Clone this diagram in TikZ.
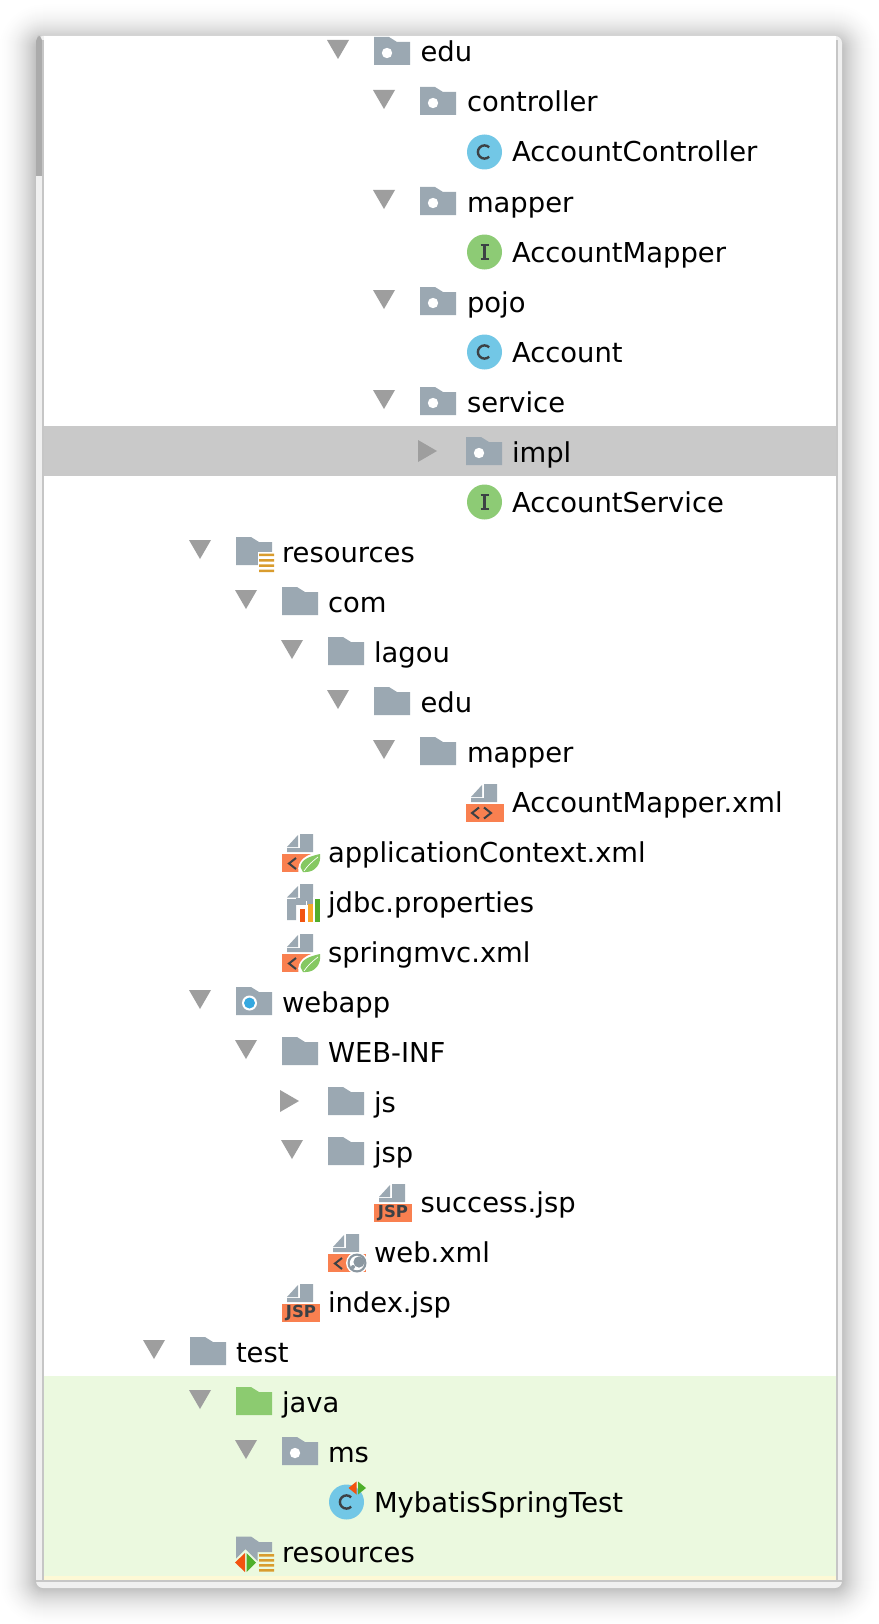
\documentclass[tikz,border=0pt]{standalone}
\usepackage{fontspec}
\setmainfont{DejaVu Sans}
\definecolor{iconGray}{HTML}{9BA8B2}
\definecolor{triGray}{HTML}{9E9E9E}
\definecolor{selGray}{HTML}{C9C9C9}
\definecolor{testGreen}{HTML}{EBF9DF}
\definecolor{stripYellow}{HTML}{FDF9D5}
\definecolor{folderGreen}{HTML}{8CCB70}
\definecolor{classBlue}{HTML}{72C7E6}
\definecolor{ifaceGreen}{HTML}{8DCB75}
\definecolor{glyphDark}{HTML}{3C4145}
\definecolor{fileOrange}{HTML}{F98050}
\definecolor{stripe}{HTML}{D99C2E}
\definecolor{arrowRed}{HTML}{F2530F}
\definecolor{arrowGreen}{HTML}{4DAF2A}
\definecolor{leafGreen}{HTML}{85C862}
\definecolor{dotBlue}{HTML}{35A8E0}
\definecolor{barOrange}{HTML}{F7A82A}
\definecolor{barGreen}{HTML}{52AE2B}
\definecolor{scrollGray}{HTML}{ABABAB}
\definecolor{edgeGray}{HTML}{C6C6C6}
\definecolor{paneLight}{HTML}{F0F0F0}
\tikzset{
  x=1pt,y=-1pt,
  lbl/.style={anchor=base west,inner sep=0pt,outer sep=0pt,text=black,font=\fontsize{27.4}{30}\selectfont},
}
\newcommand\triDown[2]{\fill[triGray] (#1-47,#2-12) -- (#1-25,#2-12) -- (#1-36,#2+7) -- cycle;}
\newcommand\triRight[2]{\fill[triGray] (#1-48,#2-12) -- (#1-29,#2-1) -- (#1-48,#2+10) -- cycle;}
\newcommand\folderShape[3]{\fill[#3] (#1,#2-15) -- (#1+15,#2-15) -- (#1+23,#2-10) -- (#1+36,#2-10) -- (#1+36,#2+13) -- (#1,#2+13) -- cycle;}
\newcommand\pkgFolder[3]{\folderShape{#1}{#2}{#3}\fill[white] (#1+13,#2+1) circle (5.2);}
\newcommand\classCircle[3]{\fill[#3] (#1+18.5,#2) circle (17.5);}
\newcommand\classIcon[2]{\classCircle{#1}{#2}{classBlue}
  \draw[glyphDark,line width=2.4pt] (#1+18.5,#2) ++(45:6.6) arc[start angle=45,end angle=315,radius=6.6];}
\newcommand\ifaceIcon[2]{\classCircle{#1}{#2}{ifaceGreen}
  \draw[glyphDark,line width=2.2pt] (#1+18.5,#2-7) -- (#1+18.5,#2+7) (#1+14.5,#2-7) -- (#1+22.5,#2-7) (#1+14.5,#2+7) -- (#1+22.5,#2+7);}
\newcommand\pageIcon[2]{\fill[iconGray] (#1+18,#2-18) -- (#1+31,#2-18) -- (#1+31,#2) -- (#1+5,#2) -- (#1+5,#2-4) -- (#1+18,#2-4) -- cycle;
  \fill[iconGray] (#1+5,#2-5) -- (#1+16,#2-17) -- (#1+16,#2-5) -- cycle;}
\newcommand\xmlBase[2]{\fill[fileOrange] (#1,#2+2) rectangle (#1+38,#2+20);}
\newcommand\xmlIcon[2]{\pageIcon{#1}{#2}\xmlBase{#1}{#2}
  \draw[glyphDark,line width=2pt] (#1+13,#2+5.5) -- (#1+6,#2+11) -- (#1+13,#2+16.5) (#1+18,#2+5.5) -- (#1+25,#2+11) -- (#1+18,#2+16.5);}
\newcommand\springIcon[2]{\pageIcon{#1}{#2}\xmlBase{#1}{#2}
  \draw[glyphDark,line width=2pt] (#1+14,#2+6) -- (#1+7,#2+11.5) -- (#1+14,#2+17);
  \fill[white] (#1+16.5,#2+21) .. controls (#1+14,#2+8) and (#1+26,#2+1) .. (#1+39,#2) -- (#1+39,#2+20) -- cycle;
  \fill[leafGreen] (#1+18.5,#2+15) .. controls (#1+19,#2+7) and (#1+29,#2+4) .. (#1+38,#2+2) .. controls (#1+39.5,#2+12) and (#1+33,#2+20) .. (#1+24,#2+20) -- (#1+21,#2+20) -- cycle;
  \draw[white,line width=.7pt] (#1+22,#2+19) .. controls (#1+26,#2+13) and (#1+31,#2+9) .. (#1+36,#2+5);}
\newcommand\webIcon[2]{\pageIcon{#1}{#2}\xmlBase{#1}{#2}
  \draw[glyphDark,line width=2pt] (#1+14,#2+6) -- (#1+7,#2+11.5) -- (#1+14,#2+17);
  \fill[white] (#1+29,#2+11) circle (11);
  \fill[iconGray!90!black] (#1+29,#2+11) circle (9.5);
  \fill[white] (#1+29,#2+11) circle (7.2);
  \fill[iconGray!90!black] (#1+31,#2+10) circle (5.6);
  \fill[iconGray!90!black] (#1+25,#2+15) circle (2);}
\newcommand\jspIcon[3]{\pageIcon{#1}{#2}\xmlBase{#1}{#2}
  \node[inner sep=0pt,text=glyphDark,font=\fontsize{16.5}{17}\selectfont\bfseries] (#3) at (#1+19,#2+11.5) {JSP};}
\newcommand\stripeBars[2]{\fill[stripe] (#1+23,#2+1.5) rectangle (#1+38,#2+4)
   (#1+23,#2+7) rectangle (#1+38,#2+9.5)
   (#1+23,#2+12.3) rectangle (#1+38,#2+14.8)
   (#1+23,#2+17.5) rectangle (#1+38,#2+20);}
\begin{document}
\begin{tikzpicture}
\useasboundingbox (0,0) rectangle (878,1624);
\fill[white] (0,0) rectangle (878,1624);
% window shadow: opaque nested layers, outermost first
\foreach \i in {40,39,...,0}{
  \pgfmathsetmacro{\dk}{25*(1-\i/40)*(1-\i/40)}
  \pgfmathsetmacro{\rad}{8+\i}
  \fill[black!\dk!white,rounded corners=\rad pt] (36-\i,36+5-\i) rectangle (842+\i,1588+\i);
}
% window
\fill[paneLight,rounded corners=7pt] (36,36) rectangle (842,1588);
\fill[white] (44,36) rectangle (836,1576);
% scrollbar
\fill[scrollGray,rounded corners=5pt] (36,36) rectangle (42.3,60);
\fill[scrollGray] (36,45) rectangle (42.3,176);
\fill[edgeGray] (42.3,40) rectangle (44,1582);
\fill[edgeGray] (836,40) rectangle (837.5,1582);
% rows
\fill[selGray] (44,426) rectangle (836,475.7);
\fill[testGreen] (44,1376) rectangle (836,1576);
\fill[stripYellow] (44,1576) rectangle (836,1580);
\fill[edgeGray] (36,1580) rectangle (842,1582);

\triDown{374}{52}\pkgFolder{374}{52}{iconGray}
\node[lbl] (edu) at (420.5,62) {edu};
\triDown{420}{102}\pkgFolder{420}{102}{iconGray}
\node[lbl] (controller) at (467,112) {controller};
\classIcon{466}{152}
\node[lbl] (acctctrl) at (512,162) {AccountController};
\triDown{420}{202}\pkgFolder{420}{202}{iconGray}
\node[lbl] (mapper) at (467,212) {mapper};
\ifaceIcon{466}{252}
\node[lbl] (acctmapper) at (512,262) {AccountMapper};
\triDown{420}{302}\pkgFolder{420}{302}{iconGray}
\node[lbl] (pojo) at (467,312) {pojo};
\classIcon{466}{352}
\node[lbl] (acct) at (512,362) {Account};
\triDown{420}{402}\pkgFolder{420}{402}{iconGray}
\node[lbl] (service) at (467,412) {service};
\triRight{466}{452}\pkgFolder{466}{452}{iconGray}
\node[lbl] (impl) at (512,462) {impl};
\ifaceIcon{466}{502}
\node[lbl] (acctservice) at (512,512) {AccountService};
% resources
\triDown{236}{552}\folderShape{236}{552}{iconGray}
\fill[white] (258,552) rectangle (275,573);
\stripeBars{236}{552}
\node[lbl] (res) at (282,562) {resources};
\triDown{282}{602}\folderShape{282}{602}{iconGray}
\node[lbl] (com) at (328,612) {com};
\triDown{328}{652}\folderShape{328}{652}{iconGray}
\node[lbl] (lagou) at (374,662) {lagou};
\triDown{374}{702}\folderShape{374}{702}{iconGray}
\node[lbl] (edub) at (420.5,712) {edu};
\triDown{420}{752}\folderShape{420}{752}{iconGray}
\node[lbl] (mapperb) at (467,762) {mapper};
\xmlIcon{466}{802}
\node[lbl] (mapperxml) at (512,812) {AccountMapper.xml};
\springIcon{282}{852}
\node[lbl] (appctx) at (328,862) {applicationContext.xml};
% jdbc.properties
\fill[iconGray] (300,884) -- (313,884) -- (313,898) -- (296,898) -- (296,920) -- (287,920) -- (287,899) -- (300,899) -- cycle;
\fill[iconGray] (287,897.5) -- (298,886) -- (298,897.5) -- cycle;
\fill[iconGray] (296,898) rectangle (313,905);
\fill[white] (297,906) -- (299,908) -- (299,922) -- (297,922) -- cycle;
\fill[arrowRed] (300,909) rectangle (305,922);
\fill[white] (305.5,901) rectangle (307,922);
\fill[barOrange] (307.5,904) rectangle (312.5,922);
\fill[white] (313,897) rectangle (315,922);
\fill[barGreen] (315,899) rectangle (320,922);
\node[lbl] (jdbc) at (328,912) {jdbc.properties};
\springIcon{282}{952}
\node[lbl] (mvc) at (328,962) {springmvc.xml};
% webapp
\triDown{236}{1002}\folderShape{236}{1002}{iconGray}
\fill[white] (249.5,1003) circle (7.5);\fill[dotBlue] (249.5,1003) circle (5.5);
\node[lbl] (webapp) at (282,1012) {webapp};
\triDown{282}{1052}\folderShape{282}{1052}{iconGray}
\node[lbl] (webinf) at (328,1062) {WEB-INF};
\triRight{328}{1102}\folderShape{328}{1102}{iconGray}
\node[lbl] (js) at (374,1112) {js};
\triDown{328}{1152}\folderShape{328}{1152}{iconGray}
\node[lbl] (jsp) at (374,1162) {jsp};
\jspIcon{374}{1202}{jspa}
\node[lbl] (success) at (420.5,1212) {success.jsp};
\webIcon{328}{1252}
\node[lbl] (webxml) at (374,1262) {web.xml};
\jspIcon{282}{1302}{jspb}
\node[lbl] (index) at (328,1312) {index.jsp};
% test
\triDown{190}{1352}\folderShape{190}{1352}{iconGray}
\node[lbl] (test) at (236,1362) {test};
\triDown{236}{1402}\folderShape{236}{1402}{folderGreen}
\node[lbl] (java) at (282,1412) {java};
\triDown{282}{1452}\pkgFolder{282}{1452}{iconGray}
\node[lbl] (ms) at (328,1462) {ms};
\classIcon{328}{1502}
\fill[arrowRed] (356.5,1481.5) -- (356.5,1494.5) -- (348.5,1488) -- cycle;
\fill[arrowGreen] (358,1481.5) -- (366,1488) -- (358,1494.5) -- cycle;
\node[lbl] (mybatis) at (374,1512) {MybatisSpringTest};
% test resources
\fill[iconGray] (236,1536.5) -- (251,1536.5) -- (259,1542) -- (272,1542) -- (272,1552) -- (257.5,1552) -- (257.5,1561) -- (245.5,1549) -- (236,1558.5) -- cycle;
\fill[stripe] (259,1554) rectangle (274,1556.5) (259,1559) rectangle (274,1561.5) (259,1564) rectangle (274,1566.5) (259,1569) rectangle (274,1571.5);
\fill[arrowRed] (245,1553) -- (245,1572) -- (235,1562.5) -- cycle;
\fill[arrowGreen] (246.5,1553) -- (256,1562.5) -- (246.5,1572) -- cycle;
\node[lbl] (resb) at (282,1562) {resources};
\end{tikzpicture}
\end{document}
